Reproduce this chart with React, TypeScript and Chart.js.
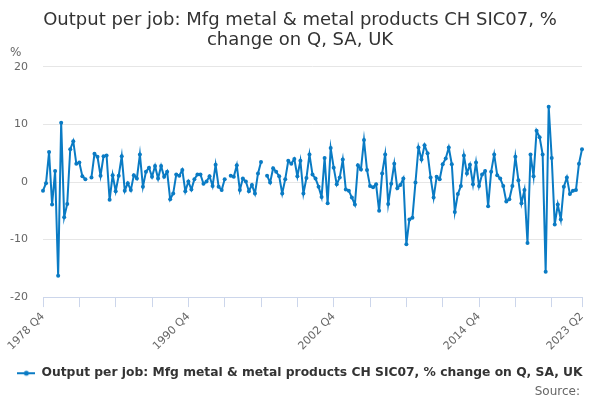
import React, { useEffect, useRef } from 'react';
import { Chart, registerables } from 'chart.js';

Chart.register(...registerables);

// Quarter categories 1978 Q4 .. 2023 Q2
const quarters: string[] = [];
{
  let y = 1978;
  let q = 4;
  while (true) {
    quarters.push(`${y} Q${q}`);
    if (y === 2023 && q === 2) break;
    q++;
    if (q > 4) { q = 1; y++; }
  }
}

const shownLabels = ['1978 Q4', '1990 Q4', '2002 Q4', '2014 Q4', '2023 Q2'];

const seriesName = 'Output per job: Mfg metal & metal products CH SIC07, % change on Q, SA, UK';
const titleLines = ['Output per job: Mfg metal & metal products CH SIC07, %', 'change on Q, SA, UK'];

const values: (number | null)[] = [
  -1.5, -0.2, 5.2, -3.9, 1.9, -16.3, 10.3, -6.1, -3.8, 5.7,
  7.1, 3.2, 3.4, 1.0, 0.5, null, 0.8, 4.9, 4.4, 1.1,
  4.5, 4.6, -3.1, 1.2, -1.6, 1.1, 4.5, -1.5, -0.2, -1.4,
  1.2, 0.6, 4.8, -0.8, 1.8, 2.5, 0.9, 2.8, 0.6, 2.8,
  0.9, 1.8, -3.0, -2.0, 1.3, 1.1, 2.1, -1.6, 0.1, -1.3,
  0.5, 1.3, 1.3, -0.3, 0.1, 1.0, -0.7, 3.0, -0.8, -1.4,
  0.5, null, 1.1, 0.9, 2.9, -1.4, 0.6, 0.1, -1.6, -0.5,
  -2.0, 1.5, 3.5, null, 1.1, -0.1, 2.4, 1.8, 1.0, -2.0,
  0.5, 3.7, 3.2, 4.0, 1.0, 3.7, -2.0, 0.7, 4.8, 1.3,
  0.6, -0.8, -2.6, 4.2, -3.7, 5.9, 2.5, -0.4, 0.8, 3.9,
  -1.3, -1.5, -2.7, -3.9, 2.9, 2.2, 7.3, 2.1, -0.7, -0.9,
  -0.4, -5.0, 1.5, 4.8, -3.8, -0.3, 3.2, -1.1, -0.5, 0.6,
  -10.8, -6.5, -6.2, -0.1, 6.0, 3.9, 6.4, 5.0, 0.8, -2.7,
  0.9, 0.5, 3.1, 4.1, 6.0, 3.1, -5.2, -2.1, -0.7, 4.6,
  1.5, 3.0, -0.4, 3.4, -0.7, 1.3, 1.9, -4.2, 1.8, 4.8,
  1.2, 0.6, -0.7, -3.4, -3.0, -0.7, 4.4, 0.3, -3.7, -1.4,
  -10.6, 4.8, 1.0, 8.9, 7.8, 4.8, -15.6, 13.1, 4.2, -7.4,
  -3.9, -6.5, -0.8, 0.8, -2.1, -1.5, -1.4, 3.2, 5.7,
];

const yTicks = [-20, -10, 0, 10, 20];

const LINE_COLOR = '#0a7bc4';
const FONT = '"DejaVu Sans", sans-serif';

export default function App() {
  const ref = useRef<HTMLCanvasElement>(null);

  useEffect(() => {
    const canvas = ref.current;
    if (!canvas) return;

    const sym = document.createElement('canvas');
    sym.width = 18;
    sym.height = 8;
    const sctx = sym.getContext('2d')!;
    sctx.strokeStyle = LINE_COLOR;
    sctx.lineWidth = 2;
    sctx.beginPath();
    sctx.moveTo(0, 4);
    sctx.lineTo(18, 4);
    sctx.stroke();
    sctx.fillStyle = LINE_COLOR;
    sctx.beginPath();
    sctx.arc(9, 4, 2.5, 0, Math.PI * 2);
    sctx.fill();

    const extraText = {
      id: 'extraText',
      afterDraw(chart: any) {
        const ctx = chart.ctx;
        ctx.save();
        ctx.fillStyle = '#666666';
        ctx.font = `12px ${FONT}`;
        ctx.textBaseline = 'middle';
        ctx.textAlign = 'left';
        ctx.fillText('%', 10, 53);
        ctx.textAlign = 'right';
        ctx.fillText('Source:', 580, 392);
        ctx.restore();
      },
    };

    const last = quarters.length - 1;

    const chart = new Chart(canvas, {
      type: 'line',
      data: {
        labels: quarters,
        datasets: [
          {
            label: seriesName,
            data: values,
            borderColor: LINE_COLOR,
            backgroundColor: LINE_COLOR,
            borderWidth: 2,
            pointRadius: 2,
            pointHoverRadius: 2,
            pointBorderWidth: 0,
            tension: 0,
            spanGaps: false,
          },
        ],
      },
      options: {
        animation: false,
        responsive: false,
        maintainAspectRatio: false,
        layout: { padding: { top: 0, left: 0, right: 0, bottom: 10.6 } },
        plugins: {
          title: {
            display: true,
            text: titleLines,
            color: '#333333',
            font: { family: FONT, size: 18, weight: 'normal', lineHeight: 1.13 },
            padding: { top: 10, bottom: 16.3 },
          },
          legend: {
            display: true,
            position: 'bottom',
            labels: {
              usePointStyle: true,
              pointStyle: sym as any,
              pointStyleWidth: 18,
              color: '#333333',
              font: { family: FONT, size: 12.3, weight: 'bold' },
              padding: 10,
            },
          },
          tooltip: { enabled: false },
        },
        scales: {
          x: {
            type: 'category',
            offset: false,
            grid: {
              drawOnChartArea: false,
              drawTicks: true,
              tickLength: 10,
              color: (ctx: any) =>
                ctx.index % 12 === 0 || ctx.index === last ? '#ccd6eb' : 'rgba(0,0,0,0)',
            },
            border: { display: true, color: '#ccd6eb' },
            ticks: {
              autoSkip: false,
              maxRotation: 45,
              minRotation: 45,
              color: '#666666',
              font: { family: FONT, size: 11 },
              callback: (_v: any, i: number) =>
                shownLabels.includes(quarters[i]) ? quarters[i] : '',
            },
            afterFit: (s: any) => {
              s.height = 60;
            },
          },
          y: {
            min: yTicks[0],
            max: yTicks[yTicks.length - 1],
            ticks: {
              stepSize: 10,
              color: '#666666',
              font: { family: FONT, size: 11 },
              padding: 15,
            },
            grid: { color: '#e6e6e6', drawTicks: false },
            border: { display: false },
            afterFit: (s: any) => {
              s.width = 43;
            },
          },
          yRightSpace: {
            type: 'linear',
            position: 'right',
            display: true,
            grid: { display: false, drawTicks: false },
            border: { display: false },
            ticks: { display: false },
            afterFit: (s: any) => {
              s.width = 18;
            },
          },
        },
      },
      plugins: [extraText],
    });

    return () => chart.destroy();
  }, []);

  return (
    <div style={{ position: 'absolute', left: 0, top: 0, width: 600, height: 400, background: '#fff' }}>
      <canvas ref={ref} width={600} height={400} style={{ width: 600, height: 400, display: 'block' }} />
    </div>
  );
}
